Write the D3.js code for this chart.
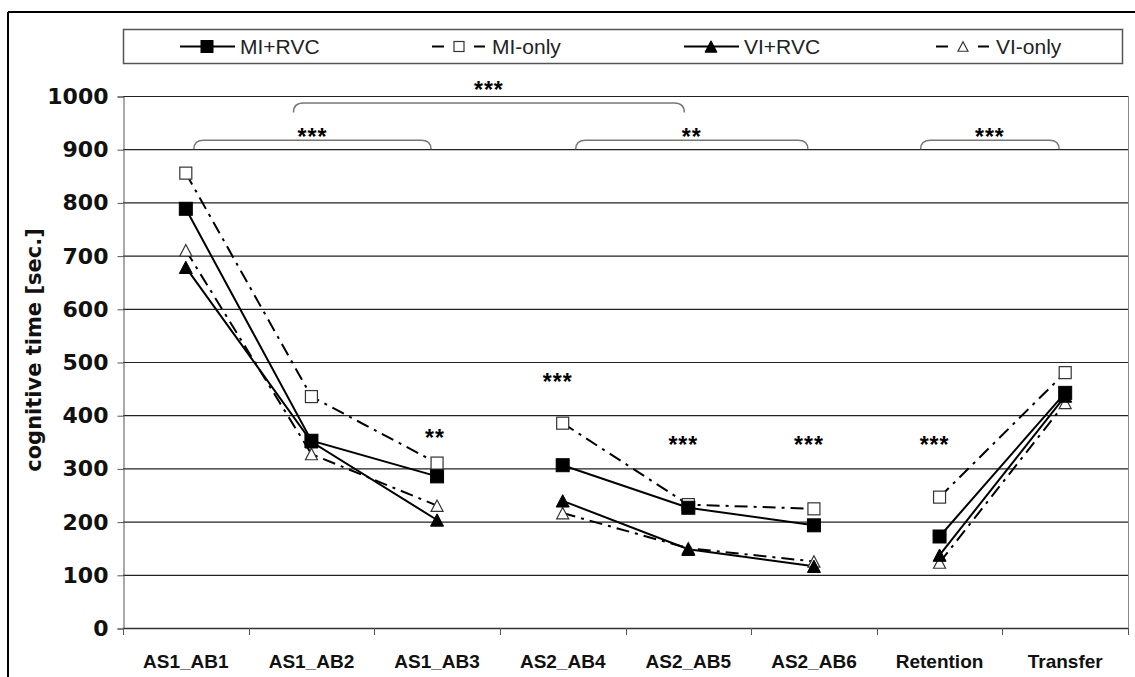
<!DOCTYPE html>
<html>
<head>
<meta charset="utf-8">
<script src="https://cdn.jsdelivr.net/npm/d3@7"></script>
<style>
  body { margin: 0; background: #fff; }
  svg { display: block; font-family: "Liberation Sans", Arial, sans-serif; }
</style>
</head>
<body>
<svg id="chart" width="1135" height="677"></svg>
<script>
// data
var categories = ['AS1_AB1', 'AS1_AB2', 'AS1_AB3', 'AS2_AB4', 'AS2_AB5', 'AS2_AB6', 'Retention', 'Transfer'];
var miRvc  = [788, 352, 285, 306, 226, 193, 172, 442];
var miOnly = [855, 435, 310, 385, 232, 224, 246, 480];
var viRvc  = [678, 350, 203, 239, 148, 116, 137, 436];
var viOnly = [710, 327, 230, 216, 150, 125, 123, 423];
var yTicks = [0, 100, 200, 300, 400, 500, 600, 700, 800, 900, 1000];
var seriesNames = ['MI+RVC', 'MI-only', 'VI+RVC', 'VI-only'];
// lines are only drawn inside each block of sessions
var blocks = [[0, 2], [3, 5], [6, 7]];

// significance marks
var brackets = [
  {from: 'AS1_AB1', to: 'AS1_AB3', label: '***', level: 'low'},
  {from: 'AS2_AB4', to: 'AS2_AB6', label: '**',  level: 'low'},
  {from: 'Retention', to: 'Transfer', label: '***', level: 'low'},
  {from: 'AS1_AB2', to: 'AS2_AB5', label: '***', level: 'high'}
];
var pointMarks = [
  {cat: 'AS1_AB3', label: '**',  value: 368},
  {cat: 'AS2_AB4', label: '***', value: 475},
  {cat: 'AS2_AB5', label: '***', value: 355},
  {cat: 'AS2_AB6', label: '***', value: 355},
  {cat: 'Retention', label: '***', value: 355}
];

var svg = d3.select('#chart');
var plot = {left: 123, right: 1128, top: 96, bottom: 628};
var heavy = '"DejaVu Sans", "Liberation Sans", sans-serif';

var x = d3.scaleBand().domain(categories).range([plot.left, plot.right]);
var y = d3.scaleLinear().domain([0, 1000]).range([plot.bottom, plot.top]);
var cx = function (c) { return x(c) + x.bandwidth() / 2; };

// outer frame (only top and left are visible in the picture)
svg.append('line').attr('x1', 8).attr('x2', 1135).attr('y1', 12).attr('y2', 12)
  .attr('stroke', '#000').attr('stroke-width', 2);
svg.append('line').attr('x1', 8).attr('x2', 8).attr('y1', 12).attr('y2', 677)
  .attr('stroke', '#000').attr('stroke-width', 2);

// grid
svg.append('g').selectAll('line').data(yTicks.filter(function (d) { return d > 0; }))
  .enter().append('line')
  .attr('x1', plot.left).attr('x2', plot.right)
  .attr('y1', function (d) { return y(d) + 0.5; }).attr('y2', function (d) { return y(d) + 0.5; })
  .attr('stroke', '#222').attr('stroke-width', 1.2);
svg.append('line').attr('x1', plot.right + 0.5).attr('x2', plot.right + 0.5)
  .attr('y1', plot.top).attr('y2', plot.bottom)
  .attr('stroke', '#888').attr('stroke-width', 1);

// y axis
var yAxis = svg.append('g').attr('transform', 'translate(' + (plot.left + 0.5) + ',0.5)')
  .call(d3.axisLeft(y).tickValues(yTicks).tickFormat(d3.format('d')).tickSize(6).tickPadding(9));
yAxis.select('.domain').attr('stroke', '#555');
yAxis.selectAll('.tick line').attr('stroke', '#555');
yAxis.selectAll('text').attr('font-size', 22).attr('font-weight', 'bold')
  .attr('fill', '#111').style('font-family', heavy);

// x axis: ticks sit between the categories
svg.append('line').attr('x1', plot.left).attr('x2', plot.right)
  .attr('y1', plot.bottom + 0.5).attr('y2', plot.bottom + 0.5)
  .attr('stroke', '#333').attr('stroke-width', 1.5);
var edges = categories.map(function (c) { return x(c); }).concat([plot.right]);
svg.append('g').selectAll('line').data(edges).enter().append('line')
  .attr('x1', function (d) { return Math.round(d) + 0.5; })
  .attr('x2', function (d) { return Math.round(d) + 0.5; })
  .attr('y1', plot.bottom).attr('y2', plot.bottom + 7)
  .attr('stroke', '#555');
svg.append('g').selectAll('text').data(categories).enter().append('text')
  .attr('x', cx).attr('y', 668)
  .attr('text-anchor', 'middle')
  .attr('font-size', 19).attr('font-weight', 'bold').attr('fill', '#111')
  .text(function (d) { return d; });

// y title
svg.append('text')
  .attr('transform', 'translate(41,350) rotate(-90)')
  .attr('text-anchor', 'middle')
  .attr('font-size', 21).attr('font-weight', 'bold').attr('fill', '#111')
  .style('font-family', heavy)
  .text('cognitive time [sec.]');

// series
var series = [
  {name: seriesNames[0], values: miRvc,  dash: null,       marker: 'square',   filled: true},
  {name: seriesNames[1], values: miOnly, dash: '13,6,3,6', marker: 'square',   filled: false},
  {name: seriesNames[2], values: viRvc,  dash: null,       marker: 'triangle', filled: true},
  {name: seriesNames[3], values: viOnly, dash: '13,6,3,6', marker: 'triangle', filled: false}
];

var line = d3.line()
  .x(function (d) { return cx(categories[d.i]); })
  .y(function (d) { return y(d.v); });

function drawMarker(g, type, filled, px, py, s) {
  if (type === 'square') {
    g.append('rect')
      .attr('x', px - s / 2).attr('y', py - s / 2).attr('width', s).attr('height', s)
      .attr('fill', filled ? '#000' : '#fff')
      .attr('stroke', filled ? '#000' : '#333').attr('stroke-width', filled ? 1 : 1.2);
  } else {
    var h = s * 0.95;
    g.append('path')
      .attr('d', 'M' + px + ',' + (py - h / 2) + 'L' + (px + s / 2) + ',' + (py + h / 2) + 'L' + (px - s / 2) + ',' + (py + h / 2) + 'Z')
      .attr('fill', filled ? '#000' : '#fff')
      .attr('stroke', filled ? '#000' : '#333').attr('stroke-width', filled ? 1 : 1.2);
  }
}

var lines = svg.append('g');
var marks = svg.append('g');
series.forEach(function (s) {
  blocks.forEach(function (b) {
    var pts = [];
    for (var i = b[0]; i <= b[1]; i++) pts.push({i: i, v: s.values[i]});
    lines.append('path')
      .datum(pts)
      .attr('d', line)
      .attr('fill', 'none')
      .attr('stroke', '#000')
      .attr('stroke-width', 2)
      .attr('stroke-dasharray', s.dash);
  });
});
// open markers underneath, filled on top like the original
[1, 3, 0, 2].forEach(function (k) {
  var s = series[k];
  s.values.forEach(function (v, i) {
    drawMarker(marks, s.marker, s.filled, cx(categories[i]), y(v), s.filled ? 13 : 12);
  });
});

// brackets
function bracketPath(x1, x2, yTop, yEnd) {
  var r = 10;
  return 'M' + x1 + ',' + yEnd +
    'Q' + x1 + ',' + yTop + ' ' + (x1 + r) + ',' + yTop +
    'L' + (x2 - r) + ',' + yTop +
    'Q' + x2 + ',' + yTop + ' ' + x2 + ',' + yEnd;
}
var bg = svg.append('g');
brackets.forEach(function (b) {
  var x1, x2, yTop, yEnd, ly;
  if (b.level === 'low') {
    x1 = cx(b.from) + 8; x2 = cx(b.to) - 6;
    if (b.from === 'AS2_AB4') x1 = cx(b.from) + 13;
    if (b.from === 'Retention') { x1 = cx(b.from) - 19; }
    yTop = y(917); yEnd = y(900); ly = y(934);
  } else {
    x1 = cx(b.from) - 18; x2 = cx(b.to) - 4;
    yTop = y(987); yEnd = y(969); ly = y(1023);
  }
  bg.append('path').attr('d', bracketPath(x1, x2, yTop, yEnd))
    .attr('fill', 'none').attr('stroke', '#777').attr('stroke-width', 1.5);
  bg.append('text').attr('class', 'star')
    .attr('x', (x1 + x2) / 2).attr('y', ly)
    .text(b.label);
});
svg.append('g').selectAll('text').data(pointMarks).enter().append('text')
  .attr('class', 'star')
  .attr('x', function (d) { return cx(d.cat) - (d.cat === 'AS1_AB3' ? 2 : 5); })
  .attr('y', function (d) { return y(d.value); })
  .text(function (d) { return d.label; });
svg.selectAll('text.star')
  .attr('text-anchor', 'middle')
  .attr('dy', '0.62em')
  .attr('font-size', 23).attr('font-weight', 'bold').attr('letter-spacing', 1)
  .attr('fill', '#000');

// legend
var leg = svg.append('g');
leg.append('rect').attr('x', 123.5).attr('y', 29.5).attr('width', 999).attr('height', 34)
  .attr('fill', '#fff').attr('stroke', '#555').attr('stroke-width', 1.5);
series.forEach(function (s, i) {
  var lx = 180 + i * 252, ly = 46.5;
  var g = leg.append('g');
  if (s.filled) {
    g.append('line').attr('x1', lx).attr('x2', lx + 55).attr('y1', ly).attr('y2', ly)
      .attr('stroke', '#000').attr('stroke-width', 2);
  } else {
    g.append('line').attr('x1', lx).attr('x2', lx + 12).attr('y1', ly).attr('y2', ly)
      .attr('stroke', '#000').attr('stroke-width', 2);
    g.append('line').attr('x1', lx + 42).attr('x2', lx + 53).attr('y1', ly).attr('y2', ly)
      .attr('stroke', '#000').attr('stroke-width', 2);
  }
  drawMarker(g, s.marker, s.filled, lx + 27, ly, s.filled ? 12 : 10);
  g.append('text').attr('x', lx + 60).attr('y', ly + 7.5)
    .attr('font-size', 21).attr('fill', '#222')
    .text(s.name);
});
</script>
</body>
</html>
